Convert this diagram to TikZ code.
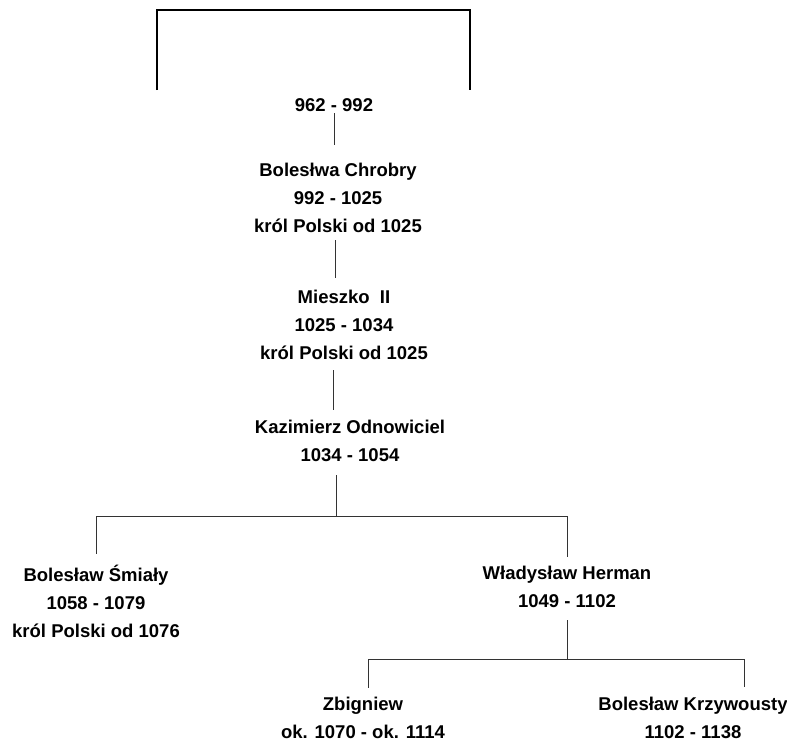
\documentclass[tikz,border=0pt]{standalone}
\usepackage{fontspec}
\setmainfont{Liberation Sans}
\tikzset{
  person/.style={font=\bfseries\fontsize{18.5}{28}\selectfont, align=center, inner sep=0pt, outer sep=0pt, anchor=base},
  link/.style={draw=black!80, line width=0.9pt},
  frame/.style={draw=black, line width=1.6pt}
}
\begin{document}
\begin{tikzpicture}[x=1pt,y=-1pt]
    \useasboundingbox (0,0) rectangle (787,742);
    % people (placed at the baseline of their last line)
    \node[person] (mI) at (334,111) {962 - 992};
    \node[person] (chrobry) at (338,232) {Bolesłwa Chrobry\\992 - 1025\\król Polski od 1025};
    \node[person] (mII) at (344,359) {Mieszko\ \ II\\1025 - 1034\\król Polski od 1025};
    \node[person] (kazimierz) at (350,461) {Kazimierz Odnowiciel\\1034 - 1054};
    \node[person] (smialy) at (96,637) {Bolesław Śmiały\\1058 - 1079\\król Polski od 1076};
    \node[person] (wladyslaw) at (567,607) {Władysław Herman\\1049 - 1102};
    \node[person] (zbigniew) at (363,738) {Zbigniew\\ok. 1070 - ok. 1114};
    \node[person] (krzywousty) at (693,738) {Bolesław Krzywousty\\1102 - 1138};
    % top frame
    \coordinate (fl) at (157,90);
    \coordinate (fr) at (470,90);
    \coordinate (ft) at (313,10);
    \draw[frame] (fl) |- (ft) -| (fr);
    % line drops
    \coordinate (cdrop) at ([xshift=-3pt]chrobry.south);
    \coordinate (mdrop) at ([xshift=-11pt]mII.south);
    \coordinate (kdrop) at ([xshift=-14pt]kazimierz.south);
    \coordinate (kfork) at (336,516);
    \coordinate (wfork) at (567,659);
    \coordinate (zdrop) at ([xshift=5pt]zbigniew.north);
    \coordinate (bdrop) at ([xshift=51pt]krzywousty.north);
    % links
    \draw[link, shorten <=2pt, shorten >=17.8pt] (mI.south) -- (mI.south |- chrobry.north);
    \draw[link, shorten <=8pt, shorten >=12pt] (cdrop) -- (cdrop |- mII.north);
    \draw[link, shorten <=11pt, shorten >=10pt] (mdrop) -- (mdrop |- kazimierz.north);
    \draw[link, shorten <=14pt] (kdrop) -- (kfork);
    \draw[link] (smialy.north |- kfork) -- (wladyslaw.north |- kfork);
    \draw[link, shorten >=11pt] (smialy.north |- kfork) -- (smialy.north);
    \draw[link, shorten >=9pt] (wladyslaw.north |- kfork) -- (wladyslaw.north);
    \draw[link, shorten <=13pt] (wladyslaw.south) -- (wfork);
    \draw[link] (zdrop |- wfork) -- (bdrop |- wfork);
    \draw[link, shorten >=9pt] (zdrop |- wfork) -- (zdrop);
    \draw[link, shorten >=10pt] (bdrop |- wfork) -- (bdrop);
\end{tikzpicture}
\end{document}
